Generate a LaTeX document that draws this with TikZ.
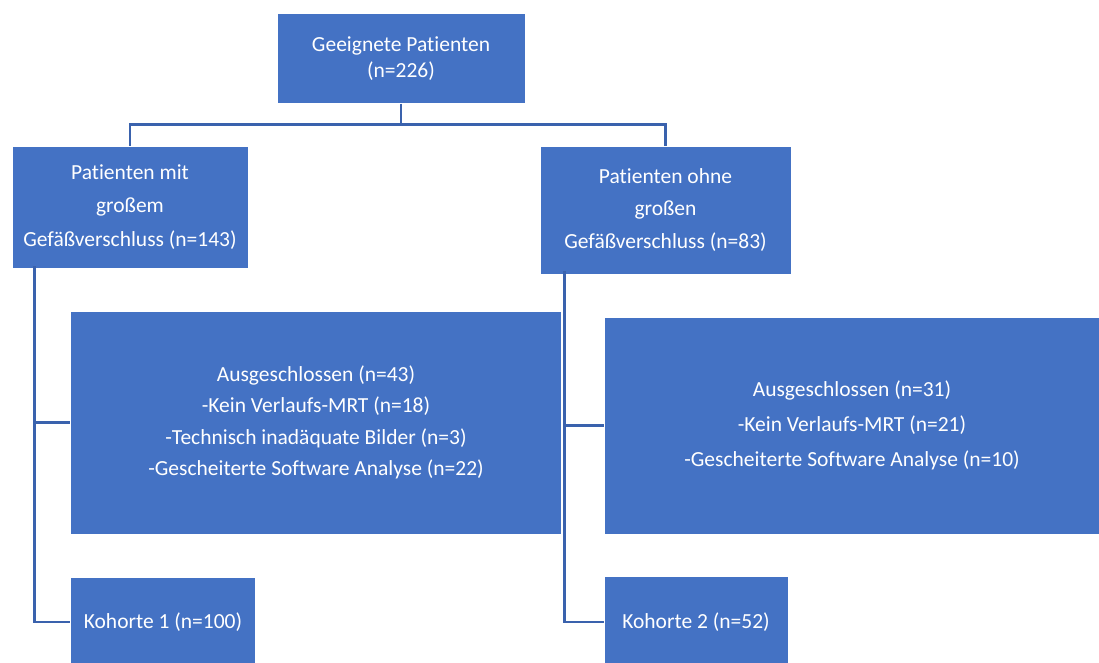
\documentclass[tikz,border=0pt]{standalone}
\usepackage{fontspec}
\setmainfont{Carlito}[Ligatures={NoCommon}]
\definecolor{boxblue}{HTML}{4472C4}
\definecolor{lineblue}{HTML}{3A62AD}
\begin{document}
\begin{tikzpicture}[x=1pt,y=-1pt,
  box/.style={fill=boxblue,draw=white,line width=0.6pt,text=white,inner sep=0pt,align=center,anchor=center},
  conn/.style={draw=lineblue,line width=2.8pt,line cap=butt}]
\useasboundingbox (0,0) rectangle (1099,662);
\node[box,minimum width=248,minimum height=90,font=\fontsize{21.5}{26}\selectfont] (top) at (401,58.5) {Geeignete Patienten\\(n=226)};
\node[box,minimum width=236,minimum height=122,font=\fontsize{21.5}{33.5}\selectfont] (left) at (130,207) {Patienten mit\\großem\\Gefäßverschluss (n=143)};
\node[box,minimum width=251,minimum height=128,font=\fontsize{21.5}{32.5}\selectfont] (right) at (665.5,210) {Patienten ohne\\großen\\Gefäßverschluss (n=83)};
\node[box,minimum width=491,minimum height=223,font=\fontsize{21.5}{31.3}\selectfont] (ex1) at (316,422.5) {Ausgeschlossen (n=43)\\-Kein Verlaufs-MRT (n=18)\\-Technisch inadäquate Bilder (n=3)\\-Gescheiterte Software Analyse (n=22)};
\node[box,minimum width=496,minimum height=217,font=\fontsize{21.5}{35}\selectfont] (ex2) at (852,425.5) {Ausgeschlossen (n=31)\\-Kein Verlaufs-MRT (n=21)\\-Gescheiterte Software Analyse (n=10)};
\node[box,minimum width=185,minimum height=90,font=\fontsize{21.5}{22}\selectfont] (k1) at (163,622) {Kohorte 1 (n=100)};
\node[box,minimum width=184,minimum height=92,font=\fontsize{21.5}{22}\selectfont] (k2) at (696,622) {Kohorte 2 (n=52)};
\draw[conn] (top.south) -- ++(0,21) -| (left.north);
\draw[conn] (top.south) -- ++(0,21) -| (right.north);
\draw[conn] ([xshift=23,yshift=2]left.south west) |- (ex1.west);
\draw[conn] ([xshift=23,yshift=2]left.south west) |- (k1.west);
\draw[conn] ([xshift=25,yshift=3]right.south west) |- (ex2.west);
\draw[conn] ([xshift=25,yshift=3]right.south west) |- (k2.west);
\end{tikzpicture}
\end{document}
